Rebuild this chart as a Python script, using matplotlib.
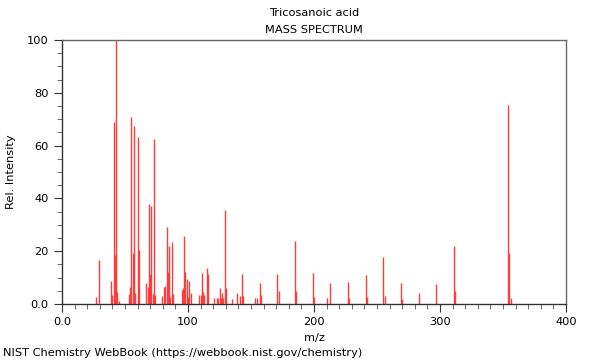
import matplotlib
matplotlib.use("Agg")
import matplotlib.pyplot as plt
from matplotlib.ticker import MultipleLocator, FixedLocator, FixedFormatter

title = "Tricosanoic acid"
subtitle = "MASS SPECTRUM"
footer = "NIST Chemistry WebBook (https://webbook.nist.gov/chemistry)"

mz = [27, 29, 39, 40, 41, 42, 43, 44, 45, 53, 54, 55, 56, 57, 58, 60, 61,
      67, 68, 69, 70, 71, 72, 73, 74, 79, 81, 82, 83, 84, 85, 86, 87, 88,
      95, 96, 97, 98, 99, 100, 101, 102, 109, 110, 111, 112, 113, 115, 116,
      121, 123, 124, 125, 126, 127, 128, 129, 130, 135, 139, 141, 143, 144,
      153, 155, 157, 158, 171, 172, 185, 186, 199, 200, 210, 213, 227, 228,
      241, 242, 255, 256, 269, 270, 283, 297, 311, 312, 354, 355, 356]
intensity = [2.8, 16.7, 8.8, 3.4, 69.0, 18.5, 100.0, 4.5, 1.0, 3.8, 6.6, 71.0, 19.3, 67.5, 4.0, 63.4, 20.5,
             8.0, 6.5, 38.0, 11.3, 37.0, 3.8, 62.5, 3.4, 3.0, 6.6, 6.8, 29.0, 12.0, 22.0, 2.8, 23.6, 3.8,
             5.3, 6.2, 25.9, 12.2, 9.4, 2.8, 8.7, 4.0, 3.4, 3.4, 11.7, 4.7, 3.4, 13.8, 11.5,
             2.4, 2.4, 2.4, 5.9, 2.4, 4.0, 2.4, 35.6, 6.2, 1.9, 4.0, 3.0, 11.4, 3.0,
             2.1, 2.4, 7.8, 3.4, 11.2, 4.9, 23.9, 4.9, 11.9, 2.8, 2.1, 8.1, 8.2, 2.4,
             11.0, 2.8, 17.9, 3.0, 7.8, 1.8, 4.3, 7.7, 22.0, 4.9, 75.4, 19.2, 2.2]

x_ticks = [0, 100, 200, 300, 400]
x_labels = ["0.0", "100", "200", "300", "400"]
y_ticks = [0, 20, 40, 60, 80, 100]
y_labels = ["0.0", "20", "40", "60", "80", "100"]

fig = plt.figure(figsize=(6, 3.6), dpi=100)
ax = fig.add_axes([62/600, 56/360, 504/600, 264/360])

ax.vlines(mz, 0, intensity, colors="#ff3c3c", linewidth=1.0)

ax.set_xlim(0, 400)
ax.set_ylim(0, 100)
ax.xaxis.set_major_locator(FixedLocator(x_ticks))
ax.xaxis.set_major_formatter(FixedFormatter(x_labels))
ax.xaxis.set_minor_locator(MultipleLocator(10))
ax.yaxis.set_major_locator(FixedLocator(y_ticks))
ax.yaxis.set_major_formatter(FixedFormatter(y_labels))
ax.yaxis.set_minor_locator(MultipleLocator(5))
ax.tick_params(which="major", direction="out", length=6, width=0.8, labelsize=8.2, color="#333333")
ax.tick_params(which="minor", direction="out", length=3.5, width=0.6, color="#555555")
for side in ["left", "bottom"]:
    ax.spines[side].set_color("#333333")
for side in ["top", "right"]:
    ax.spines[side].set_color("#666666")
for s in ax.spines.values():
    s.set_linewidth(1.0)

ax.set_xlabel("m/z", fontsize=8.2, labelpad=4)
ax.set_ylabel("Rel. Intensity", fontsize=8.2, labelpad=8)

fig.text(314/600, 1 - 13/360, title, ha="center", va="center", fontsize=8.2)
fig.text(314/600, 1 - 30/360, subtitle, ha="center", va="center", fontsize=8.2)
fig.text(3/600, 1 - 353/360, footer, ha="left", va="center", fontsize=8.2)

fig.savefig("out.png", dpi=100)
